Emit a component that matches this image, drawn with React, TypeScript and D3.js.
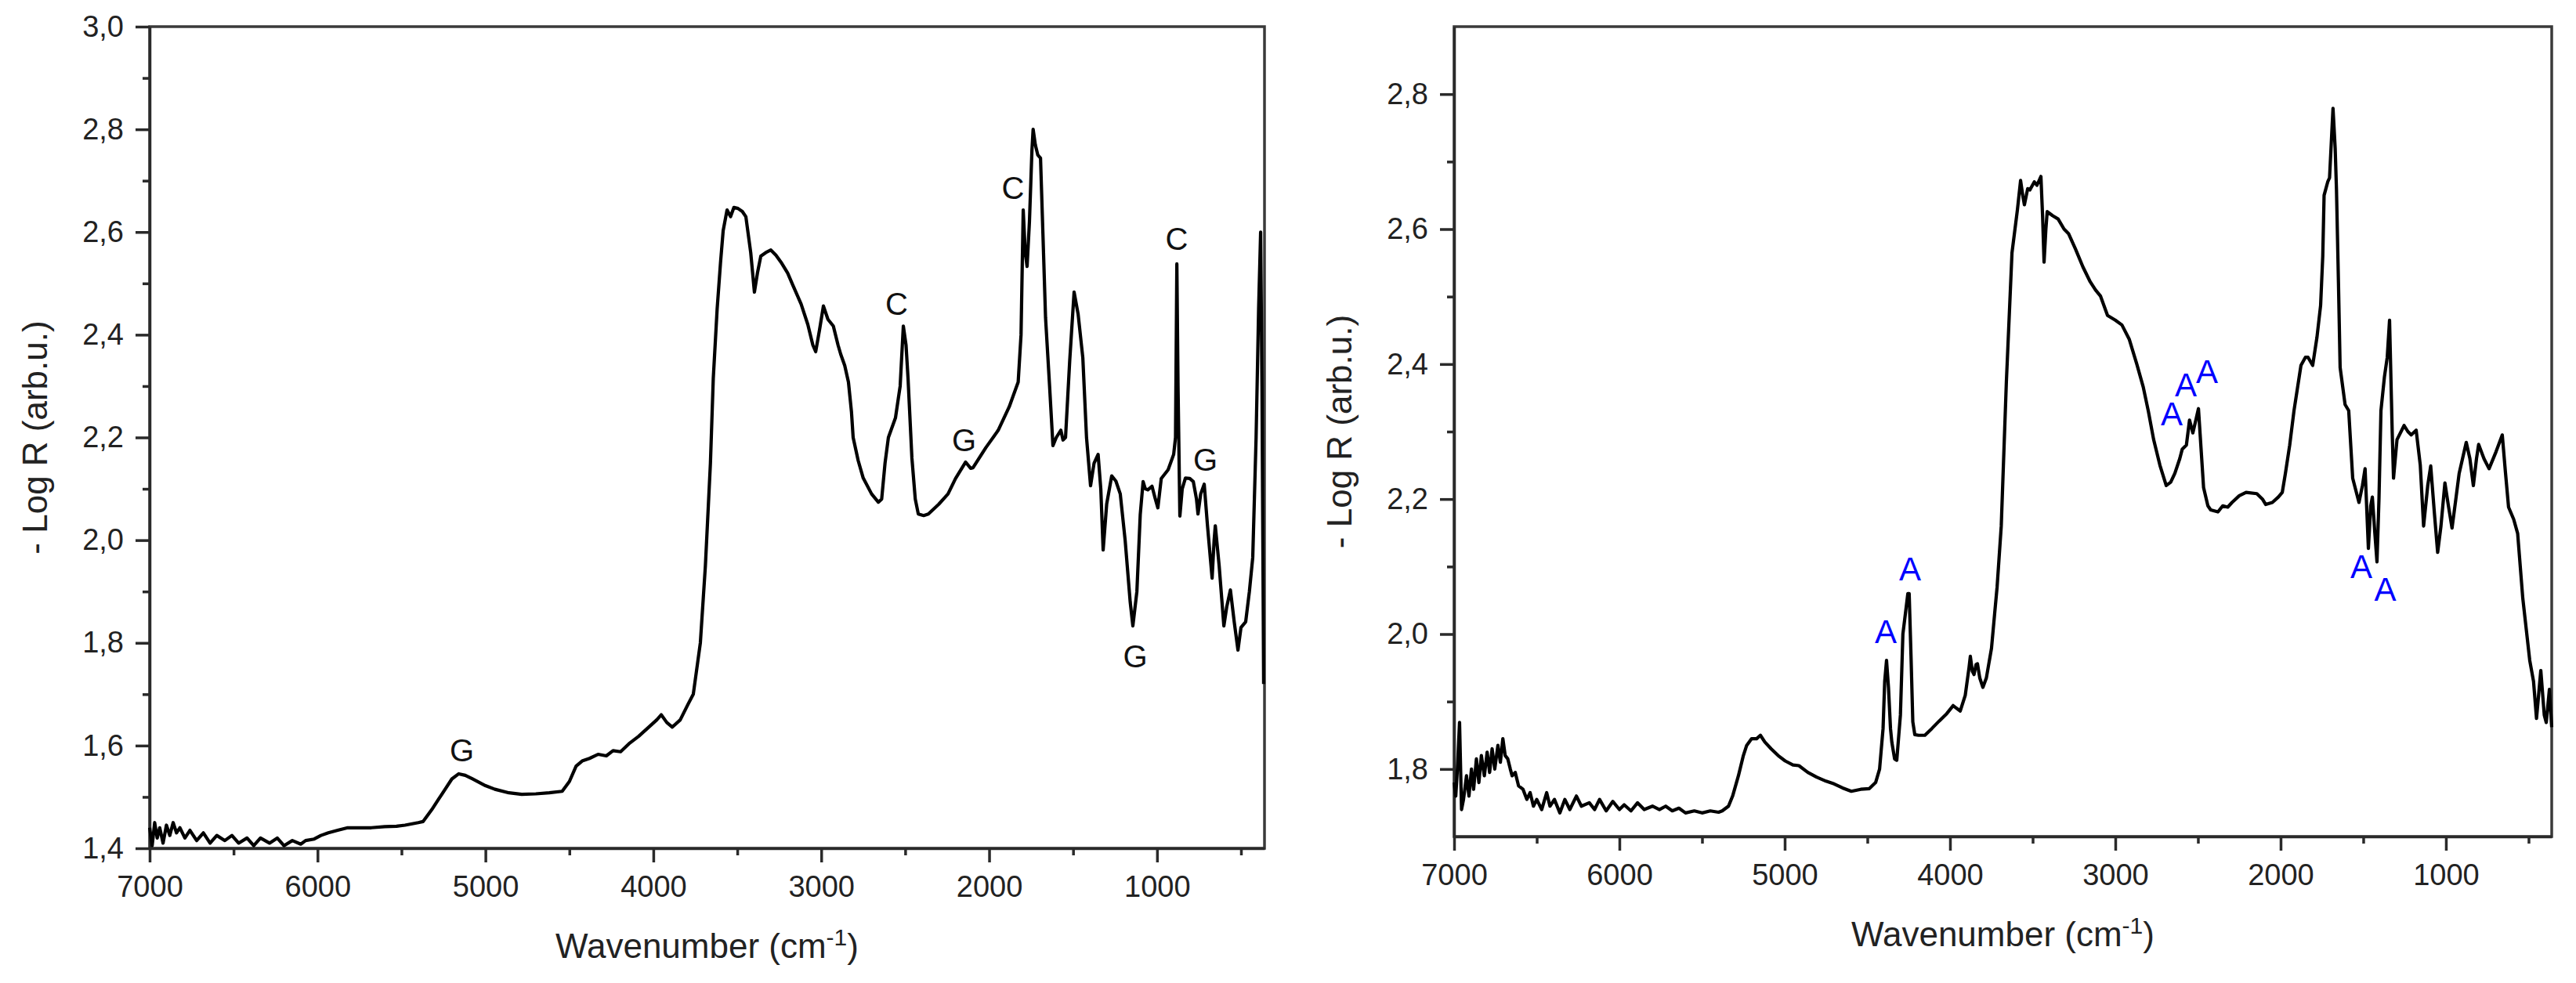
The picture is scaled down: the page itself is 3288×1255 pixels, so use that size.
import React, { useEffect, useRef } from 'react';
import * as d3 from 'd3';

// wavenumber (cm-1), -log R
const leftSpectrum: [number, number][] = [
  [7000, 1.44], [6985, 1.405], [6970, 1.45], [6955, 1.42], [6940, 1.44], [6920, 1.41],
  [6900, 1.445], [6880, 1.425], [6860, 1.45], [6840, 1.43], [6820, 1.44], [6790, 1.42],
  [6760, 1.435], [6720, 1.415], [6680, 1.43], [6640, 1.41], [6600, 1.425], [6552, 1.415],
  [6510, 1.425], [6470, 1.41], [6420, 1.42], [6380, 1.405], [6340, 1.42], [6286, 1.41],
  [6240, 1.42], [6200, 1.405], [6150, 1.415], [6100, 1.408], [6071, 1.415], [6020, 1.418],
  [5980, 1.425], [5936, 1.43], [5880, 1.435], [5820, 1.44], [5749, 1.44], [5680, 1.44],
  [5600, 1.442], [5530, 1.443], [5479, 1.445], [5400, 1.45], [5372, 1.452], [5320, 1.475],
  [5280, 1.495], [5240, 1.515], [5200, 1.535], [5159, 1.545], [5120, 1.542], [5077, 1.535],
  [5000, 1.522], [4944, 1.515], [4860, 1.508], [4784, 1.505], [4700, 1.506], [4620, 1.508],
  [4543, 1.511], [4500, 1.53], [4460, 1.56], [4424, 1.57], [4380, 1.575], [4329, 1.583],
  [4280, 1.58], [4240, 1.59], [4195, 1.588], [4140, 1.605], [4088, 1.618], [4030, 1.635],
  [3980, 1.65], [3953, 1.66], [3920, 1.645], [3887, 1.636], [3840, 1.65], [3794, 1.68],
  [3762, 1.7], [3720, 1.8], [3690, 1.95], [3660, 2.15], [3643, 2.315], [3620, 2.45],
  [3600, 2.54], [3584, 2.603], [3561, 2.643], [3540, 2.63], [3520, 2.648], [3496, 2.646],
  [3470, 2.64], [3449, 2.63], [3420, 2.56], [3398, 2.483], [3380, 2.52], [3360, 2.553],
  [3330, 2.56], [3300, 2.565], [3270, 2.555], [3239, 2.541], [3200, 2.52], [3167, 2.495],
  [3120, 2.46], [3080, 2.42], [3050, 2.38], [3033, 2.367], [3010, 2.41], [2987, 2.456],
  [2960, 2.43], [2928, 2.417], [2900, 2.38], [2884, 2.362], [2860, 2.34], [2838, 2.308],
  [2820, 2.25], [2810, 2.2], [2780, 2.155], [2750, 2.121], [2700, 2.09], [2660, 2.074],
  [2640, 2.08], [2620, 2.15], [2600, 2.2], [2558, 2.238], [2530, 2.3], [2511, 2.417],
  [2495, 2.38], [2483, 2.315], [2460, 2.16], [2440, 2.08], [2422, 2.051], [2390, 2.048],
  [2362, 2.051], [2300, 2.07], [2245, 2.09], [2200, 2.12], [2140, 2.152], [2110, 2.14],
  [2096, 2.141], [2020, 2.18], [1946, 2.214], [1880, 2.26], [1827, 2.308], [1810, 2.4],
  [1797, 2.643], [1785, 2.56], [1774, 2.533], [1760, 2.62], [1745, 2.76], [1738, 2.8],
  [1725, 2.77], [1710, 2.75], [1694, 2.744], [1680, 2.6], [1664, 2.433], [1640, 2.3],
  [1620, 2.184], [1600, 2.2], [1573, 2.214], [1560, 2.195], [1545, 2.2], [1520, 2.35],
  [1494, 2.483], [1470, 2.44], [1442, 2.355], [1420, 2.2], [1396, 2.106], [1375, 2.15],
  [1351, 2.167], [1335, 2.1], [1321, 1.981], [1300, 2.07], [1270, 2.125], [1245, 2.115],
  [1219, 2.09], [1190, 2.0], [1160, 1.88], [1144, 1.833], [1120, 1.9], [1100, 2.05],
  [1083, 2.114], [1070, 2.1], [1055, 2.098], [1030, 2.105], [1010, 2.08], [995, 2.063],
  [975, 2.12], [934, 2.137], [901, 2.167], [890, 2.2], [882, 2.538], [875, 2.3],
  [864, 2.047], [850, 2.1], [831, 2.121], [805, 2.12], [784, 2.114], [765, 2.08],
  [756, 2.051], [740, 2.09], [719, 2.109], [700, 2.03], [672, 1.926], [660, 2.0],
  [653, 2.028], [630, 1.95], [602, 1.833], [585, 1.87], [563, 1.903], [540, 1.84],
  [518, 1.786], [500, 1.83], [472, 1.841], [450, 1.9], [430, 1.966], [410, 2.2],
  [395, 2.45], [383, 2.6], [375, 2.3], [365, 1.72],
];

const rightSpectrum: [number, number][] = [
  [7000, 1.78], [6990, 1.76], [6980, 1.8], [6967, 1.869], [6955, 1.74], [6943, 1.755],
  [6925, 1.79], [6910, 1.76], [6895, 1.8], [6882, 1.77], [6865, 1.815], [6850, 1.78],
  [6835, 1.82], [6817, 1.79], [6800, 1.825], [6785, 1.795], [6770, 1.83], [6754, 1.8],
  [6735, 1.835], [6720, 1.81], [6705, 1.845], [6691, 1.82], [6675, 1.815], [6660, 1.8],
  [6649, 1.79], [6630, 1.795], [6610, 1.775], [6583, 1.77], [6560, 1.755], [6540, 1.765],
  [6520, 1.745], [6500, 1.755], [6470, 1.74], [6440, 1.765], [6420, 1.745], [6393, 1.755],
  [6360, 1.735], [6330, 1.755], [6300, 1.74], [6260, 1.76], [6230, 1.745], [6182, 1.75],
  [6150, 1.74], [6120, 1.755], [6080, 1.738], [6040, 1.752], [6000, 1.74], [5971, 1.747],
  [5930, 1.738], [5890, 1.75], [5850, 1.74], [5800, 1.745], [5758, 1.74], [5720, 1.745],
  [5680, 1.738], [5640, 1.742], [5600, 1.735], [5547, 1.738], [5500, 1.735], [5450, 1.738],
  [5400, 1.736], [5378, 1.738], [5340, 1.745], [5315, 1.76], [5280, 1.79], [5250, 1.82],
  [5230, 1.835], [5200, 1.845], [5170, 1.845], [5147, 1.85], [5120, 1.84], [5082, 1.83],
  [5040, 1.82], [4997, 1.812], [4950, 1.806], [4914, 1.805], [4860, 1.795], [4807, 1.788],
  [4750, 1.782], [4701, 1.778], [4650, 1.772], [4597, 1.767], [4540, 1.77], [4488, 1.771],
  [4450, 1.78], [4426, 1.8], [4405, 1.86], [4395, 1.93], [4384, 1.961], [4372, 1.92],
  [4360, 1.86], [4352, 1.84], [4335, 1.815], [4322, 1.813], [4300, 1.88], [4285, 2.0],
  [4270, 2.03], [4255, 2.06], [4247, 2.06], [4235, 1.96], [4225, 1.87], [4213, 1.851],
  [4190, 1.85], [4152, 1.85], [4110, 1.86], [4066, 1.871], [4020, 1.882], [3981, 1.894],
  [3960, 1.89], [3938, 1.886], [3908, 1.909], [3885, 1.95], [3877, 1.967], [3865, 1.945],
  [3855, 1.94], [3842, 1.955], [3834, 1.956], [3820, 1.935], [3801, 1.921], [3780, 1.935],
  [3749, 1.979], [3730, 2.03], [3715, 2.07], [3690, 2.16], [3659, 2.374], [3625, 2.565],
  [3592, 2.629], [3573, 2.672], [3560, 2.65], [3550, 2.636], [3530, 2.66], [3517, 2.658],
  [3490, 2.67], [3474, 2.665], [3450, 2.678], [3440, 2.62], [3431, 2.551], [3420, 2.6],
  [3412, 2.626], [3380, 2.62], [3346, 2.615], [3310, 2.6], [3282, 2.593], [3240, 2.57],
  [3196, 2.544], [3152, 2.522], [3120, 2.51], [3090, 2.501], [3047, 2.472], [3000, 2.465],
  [2960, 2.458], [2916, 2.437], [2870, 2.4], [2831, 2.366], [2800, 2.33], [2768, 2.288],
  [2730, 2.25], [2692, 2.22], [2665, 2.225], [2640, 2.238], [2610, 2.26], [2595, 2.274],
  [2570, 2.28], [2551, 2.317], [2531, 2.298], [2510, 2.32], [2497, 2.334], [2480, 2.27],
  [2466, 2.217], [2440, 2.19], [2423, 2.184], [2379, 2.181], [2350, 2.19], [2320, 2.188],
  [2294, 2.195], [2250, 2.205], [2209, 2.21], [2144, 2.208], [2110, 2.2], [2090, 2.192],
  [2050, 2.195], [2014, 2.203], [1990, 2.21], [1971, 2.238], [1945, 2.28], [1919, 2.331],
  [1877, 2.398], [1850, 2.41], [1834, 2.41], [1806, 2.398], [1780, 2.44], [1758, 2.487],
  [1745, 2.56], [1737, 2.65], [1715, 2.67], [1704, 2.676], [1683, 2.779], [1670, 2.72],
  [1662, 2.658], [1650, 2.52], [1640, 2.395], [1610, 2.34], [1588, 2.331], [1564, 2.231],
  [1526, 2.195], [1505, 2.22], [1489, 2.245], [1469, 2.127], [1455, 2.19], [1445, 2.203],
  [1430, 2.15], [1417, 2.107], [1405, 2.2], [1393, 2.331], [1372, 2.381], [1355, 2.41],
  [1341, 2.465], [1325, 2.3], [1317, 2.231], [1296, 2.288], [1253, 2.309], [1230, 2.3],
  [1210, 2.295], [1180, 2.302], [1155, 2.25], [1135, 2.16], [1110, 2.22], [1092, 2.249],
  [1070, 2.18], [1050, 2.121], [1030, 2.16], [1006, 2.224], [985, 2.19], [963, 2.157],
  [940, 2.2], [920, 2.238], [877, 2.284], [855, 2.26], [834, 2.22], [815, 2.26],
  [802, 2.281], [770, 2.26], [739, 2.245], [697, 2.27], [659, 2.295], [640, 2.24],
  [621, 2.188], [590, 2.17], [566, 2.149], [535, 2.053], [493, 1.961], [470, 1.93],
  [452, 1.875], [426, 1.946], [405, 1.88], [393, 1.869], [374, 1.918], [360, 1.862],
];

// peak labels: [wavenumber, value, text]
const leftLabels: [number, number, string][] = [
  [5140, 1.592, 'G'], [2551, 2.46, 'C'], [2149, 2.195, 'G'], [1858, 2.687, 'C'],
  [883, 2.587, 'C'], [712, 2.157, 'G'], [1130, 1.775, 'G'],
];
const rightLabels: [number, number, string][] = [
  [4389, 2.004, 'A'], [4242, 2.097, 'A'], [2659, 2.327, 'A'], [2573, 2.37, 'A'],
  [2445, 2.39, 'A'], [1512, 2.1, 'A'], [1367, 2.067, 'A'],
];

const xDomain = [7000, 360];
const xMajorTicks = [7000, 6000, 5000, 4000, 3000, 2000, 1000];
const xMinorTicks = [6500, 5500, 4500, 3500, 2500, 1500, 500];
const leftYDomain = [1.4, 3.0];
const leftYMajor = [1.4, 1.6, 1.8, 2.0, 2.2, 2.4, 2.6, 2.8, 3.0];
const leftYMinor = [1.5, 1.7, 1.9, 2.1, 2.3, 2.5, 2.7, 2.9];
const rightYDomain = [1.7, 2.9];
const rightYMajor = [1.8, 2.0, 2.2, 2.4, 2.6, 2.8];
const rightYMinor = [1.7, 1.9, 2.1, 2.3, 2.5, 2.7, 2.9];

const FONT = '"Liberation Sans", Arial, sans-serif';

function drawPanel(svg, opts) {
  const { x0, x1, yTop, yBottom, yDomain, yMajor, yMinor, data, labels, labelColor, labelSize } = opts;
  const x = d3.scaleLinear().domain(xDomain).range([x0, x1]);
  const y = d3.scaleLinear().domain(yDomain).range([yBottom, yTop]);
  const fmt = (d) => d3.format('.1f')(d).replace('.', ',');
  const g = svg.append('g');

  // frame
  g.append('rect')
    .attr('x', x0).attr('y', yTop)
    .attr('width', x1 - x0).attr('height', yBottom - yTop)
    .attr('fill', 'none').attr('stroke', '#3a3a3a').attr('stroke-width', 3.5);

  const styleAxis = (sel) => {
    sel.selectAll('line').attr('stroke', '#2a2a2a').attr('stroke-width', 3.5);
    sel.selectAll('path').attr('stroke', '#2a2a2a').attr('stroke-width', 3.5);
    sel.selectAll('text').attr('font-family', FONT).attr('font-size', 38).attr('fill', '#222');
  };

  g.append('g').attr('transform', `translate(${x0},0)`)
    .call(d3.axisLeft(y).tickValues(yMinor.filter((v) => v > yDomain[0] && v < yDomain[1])).tickSize(9).tickFormat(() => ''))
    .call((s) => s.select('.domain').remove())
    .call(styleAxis);
  g.append('g').attr('transform', `translate(${x0},0)`)
    .call(d3.axisLeft(y).tickValues(yMajor).tickSize(18).tickPadding(15).tickSizeOuter(0).tickFormat(fmt))
    .call(styleAxis);

  g.append('g').attr('transform', `translate(0,${yBottom})`)
    .call(d3.axisBottom(x).tickValues(xMinorTicks).tickSize(9).tickFormat(() => ''))
    .call((s) => s.select('.domain').remove())
    .call(styleAxis);
  g.append('g').attr('transform', `translate(0,${yBottom})`)
    .call(d3.axisBottom(x).tickValues(xMajorTicks).tickSize(18).tickPadding(17).tickSizeOuter(0).tickFormat(d3.format('d')))
    .call(styleAxis);

  const line = d3.line()
    .x((d) => x(d[0]))
    .y((d) => y(d[1]))
    .curve(d3.curveLinear);

  g.append('path')
    .datum(data)
    .attr('fill', 'none')
    .attr('stroke', '#000')
    .attr('stroke-width', 4.2)
    .attr('stroke-linejoin', 'round')
    .attr('d', line);

  labels.forEach(([wn, val, txt]) => {
    g.append('text')
      .attr('x', x(wn))
      .attr('y', y(val))
      .attr('dy', '0.36em')
      .attr('text-anchor', 'middle')
      .attr('font-family', FONT)
      .attr('font-size', labelSize)
      .attr('fill', labelColor)
      .text(txt);
  });

  // y title
  g.append('text')
    .attr('transform', `translate(${x0 - 131},${(yTop + yBottom) / 2}) rotate(-90)`)
    .attr('text-anchor', 'middle')
    .attr('font-family', FONT)
    .attr('font-size', 44)
    .attr('fill', '#222')
    .text('- Log R (arb.u.)');

  // x title
  const xt = g.append('text')
    .attr('x', (x0 + x1) / 2)
    .attr('y', yBottom + 140)
    .attr('text-anchor', 'middle')
    .attr('font-family', FONT)
    .attr('font-size', 44)
    .attr('fill', '#222');
  xt.append('tspan').text('Wavenumber (cm');
  xt.append('tspan').attr('dy', -16).attr('font-size', 30).text('-1');
  xt.append('tspan').attr('dy', 16).text(')');
}

export default function App() {
  const ref = useRef(null);

  useEffect(() => {
    const svg = d3.select(ref.current);
    svg.selectAll('*').remove();
    svg.append('rect').attr('width', 3288).attr('height', 1255).attr('fill', '#fff');

    drawPanel(svg, {
      x0: 191, x1: 1614, yTop: 34, yBottom: 1083,
      yDomain: leftYDomain, yMajor: leftYMajor, yMinor: leftYMinor,
      data: leftSpectrum, labels: leftLabels, labelColor: '#111', labelSize: 40,
    });
    drawPanel(svg, {
      x0: 1856, x1: 3257, yTop: 34, yBottom: 1068,
      yDomain: rightYDomain, yMajor: rightYMajor, yMinor: rightYMinor,
      data: rightSpectrum, labels: rightLabels, labelColor: '#0000ff', labelSize: 42,
    });
  }, []);

  return (
    <div style={{ position: 'absolute', left: 0, top: 0 }}>
      <svg ref={ref} width={3288} height={1255} style={{ display: 'block' }} />
    </div>
  );
}
